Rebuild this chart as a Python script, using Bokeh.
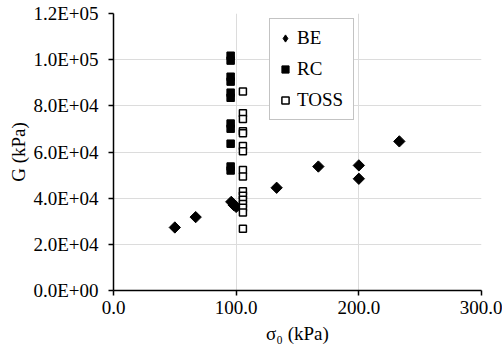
import math
from bokeh.plotting import figure
from bokeh.models import FixedTicker, Legend, LegendItem
from bokeh.embed import file_html
from bokeh.resources import INLINE

# Data
be_x = [50, 67, 96, 98, 100, 133, 167, 200, 200, 233]
be_y = [27300, 31800, 38400, 37000, 36200, 44500, 53700, 54200, 48400, 64600]

rc_x = [95.5] * 11
rc_y = [101700, 99600, 92600, 90500, 85700, 83500, 72300, 70100, 63600, 53700, 52000]

toss_x = [105.5] * 16
toss_y = [86200, 76800, 74300, 69000, 68100, 62600, 60300, 52200, 49400,
          43000, 41100, 39300, 37500, 35800, 33800, 26700]

x_ticks = [0, 100, 200, 300]
x_tick_labels = ["0.0", "100.0", "200.0", "300.0"]
y_ticks = [0, 20000, 40000, 60000, 80000, 100000, 120000]
y_tick_labels = ["0.0E+00", "2.0E+04", "4.0E+04", "6.0E+04", "8.0E+04", "1.0E+05", "1.2E+05"]

FONT = "Liberation Serif"
FS = "19px"

p = figure(width=502, height=348, output_backend="svg", toolbar_location=None,
           x_range=(0, 300), y_range=(0, 120000),
           min_border_left=113, min_border_right=21, min_border_top=13, min_border_bottom=58)
p.outline_line_color = None
p.background_fill_color = "white"
p.border_fill_color = "white"

r_be = p.scatter(be_x, be_y, marker="square", angle=math.pi / 4, size=8,
                 fill_color="black", line_color="black")
# legend-only proxy (NaN point, never drawn) so the legend shows a diamond
r_be_leg = p.scatter([float("nan")], [float("nan")], marker="diamond", size=12,
                     fill_color="black", line_color="black")
r_rc = p.scatter(rc_x, rc_y, marker="square", size=7.5, fill_color="black", line_color="black")
r_toss = p.scatter(toss_x, toss_y, marker="square", size=7, fill_color="white",
                   line_color="black", line_width=1.5)

p.xaxis.ticker = FixedTicker(ticks=x_ticks)
p.yaxis.ticker = FixedTicker(ticks=y_ticks)
p.xaxis.major_label_overrides = {t: l for t, l in zip(x_ticks, x_tick_labels)}
p.yaxis.major_label_overrides = {t: l for t, l in zip(y_ticks, y_tick_labels)}

for ax in (p.xaxis, p.yaxis):
    ax.axis_line_color = "black"
    ax.axis_line_width = 1.5
    ax.major_tick_line_color = "black"
    ax.major_tick_line_width = 1.5
    ax.major_tick_out = 5
    ax.major_tick_in = 0
    ax.minor_tick_line_color = None
    ax.major_label_text_font = FONT
    ax.major_label_text_font_size = FS
    ax.major_label_text_color = "black"
    ax.axis_label_text_font = FONT
    ax.axis_label_text_font_size = FS
    ax.axis_label_text_font_style = "normal"
    ax.axis_label_text_color = "black"

p.xaxis.axis_label = "σ₀ (kPa)"
p.yaxis.axis_label = "G (kPa)"
p.xaxis.major_label_standoff = 5
p.yaxis.major_label_standoff = 10
p.xaxis.axis_label_standoff = 6
p.yaxis.axis_label_standoff = 1

p.xgrid.ticker = FixedTicker(ticks=x_ticks)
p.ygrid.ticker = FixedTicker(ticks=y_ticks)
p.grid.grid_line_color = "#dcdcdc"
p.grid.grid_line_width = 1

legend = Legend(items=[
    LegendItem(label="BE", renderers=[r_be_leg]),
    LegendItem(label="RC", renderers=[r_rc]),
    LegendItem(label="TOSS", renderers=[r_toss]),
], location=(156, 170))
legend.label_text_font = FONT
legend.label_text_font_size = FS
legend.label_text_color = "black"
legend.border_line_color = "#888888"
legend.border_line_width = 1.5
legend.background_fill_color = "white"
legend.background_fill_alpha = 1
legend.padding = 6
legend.spacing = 5
legend.glyph_width = 18
legend.glyph_height = 26
legend.label_height = 26
legend.label_width = 50
legend.label_standoff = 3
legend.margin = 0
p.add_layout(legend)

open("out.html", "w").write(file_html(p, INLINE))
